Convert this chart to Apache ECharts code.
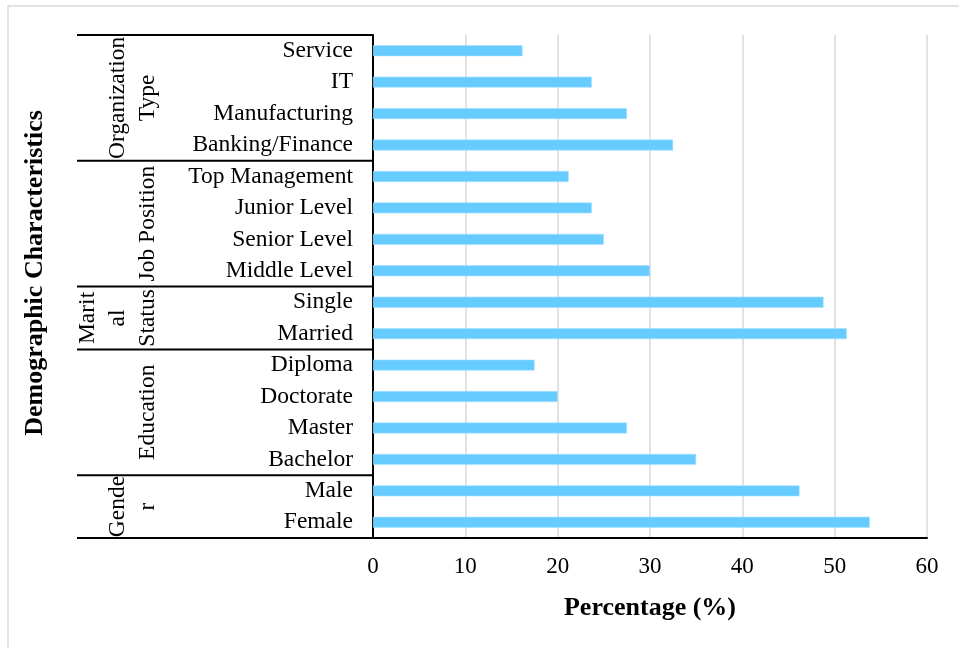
<!DOCTYPE html>
<html>
<head>
<meta charset="utf-8">
<script src="https://cdn.jsdelivr.net/npm/echarts@6/dist/echarts.min.js"></script>
<style>
html,body{margin:0;padding:0;background:#fff;}
#c{width:959px;height:648px;}
</style>
</head>
<body>
<div id="c"></div>
<script>
// Categories from bottom to top (ECharts category y-axis starts at bottom)
const categories = ["Female","Male","Bachelor","Master","Doctorate","Diploma","Married","Single",
  "Middle Level","Senior Level","Junior Level","Top Management","Banking/Finance","Manufacturing","IT","Service"];
const values = [53.8,46.2,35.0,27.5,20.0,17.5,51.3,48.8,30.0,25.0,23.7,21.2,32.5,27.5,23.7,16.2];
// Groups from bottom to top: label text and number of categories
const groupLabels = ["Gende\nr","Education","Marit\nal\nStatus","Job Position","Organization\nType"];
const groupSizes = [2,4,2,4,4];
const xTicks = [0,10,20,30,40,50,60];
const xTitle = "Percentage (%)";
const yTitle = "Demographic Characteristics";

const FONT = "'Liberation Serif','Times New Roman',serif";
const chart = echarts.init(document.getElementById('c'), null, {renderer:'canvas'});

chart.setOption({
  animation:false,
  backgroundColor:'#fff',
  grid:{left:373,right:32,top:35,bottom:110,containLabel:false},
  xAxis:{
    type:'value',min:xTicks[0],max:xTicks[xTicks.length-1],interval:10,
    axisLine:{show:true,lineStyle:{color:'#000',width:2}},
    axisTick:{show:false},
    splitLine:{show:true,lineStyle:{color:'#d9d9d9',width:1.5}},
    axisLabel:{color:'#000',fontFamily:FONT,fontSize:23,margin:17},
    name:xTitle,nameLocation:'middle',nameGap:57,
    nameTextStyle:{color:'#000',fontFamily:FONT,fontSize:26,fontWeight:'bold'}
  },
  yAxis:{
    type:'category',data:categories,
    axisLine:{show:true,lineStyle:{color:'#000',width:2}},
    axisTick:{show:false},
    axisLabel:{color:'#000',fontFamily:FONT,fontSize:23.5,margin:20}
  },
  series:[{
    type:'bar',data:values,barWidth:11,
    itemStyle:{color:'#66ccff',borderColor:'#a8e0ff',borderWidth:0.6}
  }]
});

function drawExtras(){
  const half = (chart.convertToPixel({yAxisIndex:0},categories[0]) - chart.convertToPixel({yAxisIndex:0},categories[1]))/2;
  const axisX = chart.convertToPixel({xAxisIndex:0},0);
  const elements = [];
  // outer light border
  elements.push({type:'rect',shape:{x:8,y:6,width:1200,height:1200},style:{fill:null,stroke:'#d9d9d9',lineWidth:1.5},silent:true,z:0});
  let idx = 0;
  const lines = [];
  const bottomY = chart.convertToPixel({yAxisIndex:0},categories[0]) + half;
  lines.push(bottomY);
  groupSizes.forEach((n,g)=>{
    const y0 = chart.convertToPixel({yAxisIndex:0},categories[idx]) + half;
    const y1 = chart.convertToPixel({yAxisIndex:0},categories[idx+n-1]) - half;
    lines.push(y1);
    const nl = groupLabels[g].split('\n').length;
    const cx = 148 - (nl-1)*15;
    elements.push({type:'text',x:cx,y:(y0+y1)/2,rotation:Math.PI/2,
      style:{text:groupLabels[g],font:'23.5px '+FONT,fill:'#000',align:'center',verticalAlign:'middle',lineHeight:30},z:10});
    idx += n;
  });
  lines.forEach(y=>{
    elements.push({type:'line',shape:{x1:77,y1:y,x2:axisX,y2:y},style:{stroke:'#000',lineWidth:2},z:10});
  });
  elements.push({type:'text',x:35,y:273,rotation:Math.PI/2,
    style:{text:yTitle,font:'bold 26px '+FONT,fill:'#000',align:'center',verticalAlign:'middle'},z:10});
  chart.setOption({graphic:{elements:elements}});
}
drawExtras();
</script>
</body>
</html>
